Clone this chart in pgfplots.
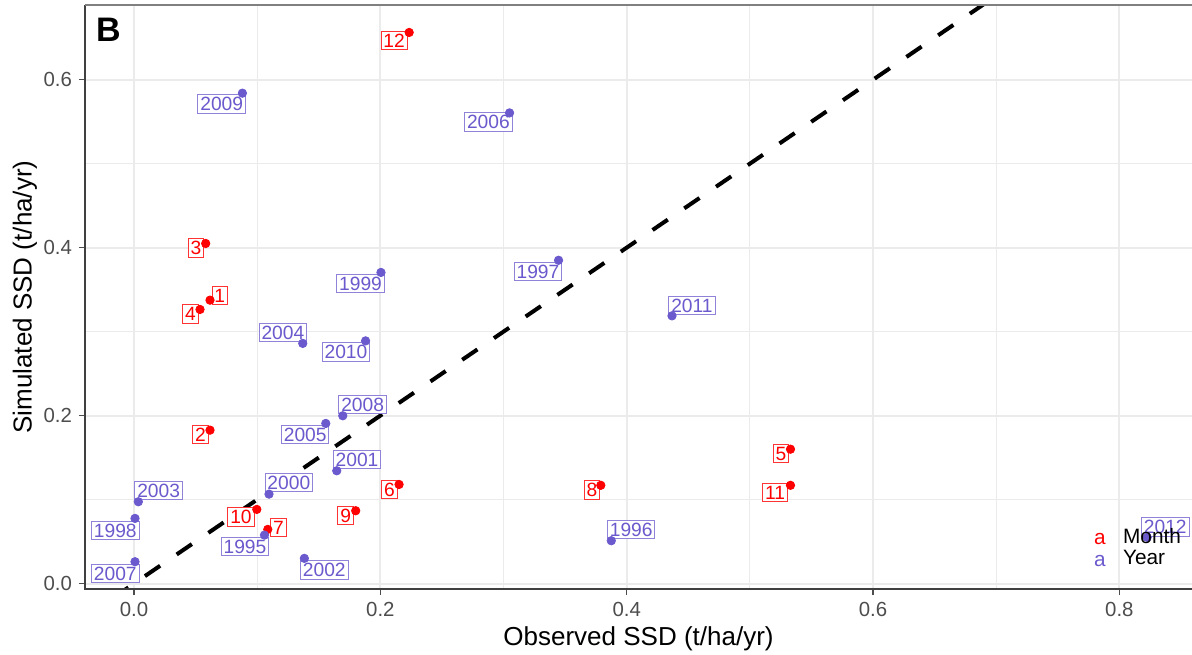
\documentclass[border=0pt]{standalone}
\usepackage{pgfplots}
\pgfplotsset{compat=1.18}
\usepackage{pgfplotstable}
\usepackage{fontspec}
\setmainfont{Liberation Sans}
\definecolor{yr}{RGB}{106,90,205}
\definecolor{mo}{RGB}{255,0,0}
\definecolor{gridc}{RGB}{235,235,235}
\definecolor{tickc}{RGB}{77,77,77}

% Month points
\pgfplotstableread{
x y
0.0617 0.3375
0.0617 0.1827
0.0582 0.4050
0.0536 0.3264
0.5330 0.1600
0.2152 0.1180
0.1086 0.0645
0.3790 0.1170
0.1800 0.0867
0.0997 0.0883
0.5330 0.1170
0.2234 0.6563
}\monthpts

% Month label positions
\pgfplotstableread{
x y label
0.0696 0.3430 1
0.0540 0.1771 2
0.0502 0.3996 3
0.0459 0.3210 4
0.5253 0.1551 5
0.2073 0.1123 6
0.1172 0.0663 7
0.3719 0.1113 8
0.1718 0.0812 9
0.0868 0.0792 10
0.5205 0.1080 11
0.2112 0.6470 12
}\monthlab

% Year points
\pgfplotstableread{
x y
0.1059 0.0577
0.3875 0.0510
0.3447 0.3850
0.0008 0.0776
0.2005 0.3705
0.1096 0.1065
0.1646 0.1343
0.1383 0.0300
0.0035 0.0974
0.1370 0.2860
0.1557 0.1907
0.3049 0.5605
0.0008 0.0260
0.1695 0.1998
0.0880 0.5840
0.1880 0.2890
0.4368 0.3188
0.8226 0.0550
}\yearpts

% Year label positions
\pgfplotstableread{
x y label
0.0901 0.0438 1995
0.4037 0.0640 1996
0.3280 0.3717 1997
-0.0152 0.0633 1998
0.1839 0.3574 1999
0.1257 0.1199 2000
0.1811 0.1474 2001
0.1545 0.0161 2002
0.0200 0.1107 2003
0.1209 0.2988 2004
0.1390 0.1774 2005
0.2877 0.5497 2006
-0.0152 0.0115 2007
0.1856 0.2135 2008
0.0712 0.5710 2009
0.1721 0.2758 2010
0.4530 0.3315 2011
0.8373 0.0673 2012
}\yearlab

\begin{document}
\begin{tikzpicture}
\path[use as bounding box] (0,0) rectangle (596pt,327pt);
\begin{axis}[
  name=ax,
  at={(42.5pt,32.5pt)}, anchor=south west,
  width=553.5pt, height=292pt, scale only axis,
  xmin=-0.0398, xmax=0.859, ymin=-0.0065, ymax=0.689,
  xtick={0,0.2,0.4,0.6,0.8}, ytick={0,0.2,0.4,0.6},
  minor xtick={0.1,0.3,0.5,0.7}, minor ytick={0.1,0.3,0.5},
  grid=both,
  major grid style={gridc, line width=1pt},
  minor grid style={gridc, line width=0.5pt},
  axis line style={draw=none},
  xtick pos=bottom, ytick pos=left,
  tick align=outside,
  major tick length=3pt, minor tick length=0pt,
  every tick/.style={tickc, line width=0.6pt},
  tick label style={font=\fontsize{10.2}{12}\selectfont, text=tickc},
  xlabel={Observed SSD (t/ha/yr)},
  ylabel={Simulated SSD (t/ha/yr)},
  xlabel style={font=\fontsize{13}{15}\selectfont, at={(axis description cs:0.5,-0.0856)}, anchor=center},
  ylabel style={font=\fontsize{13}{15}\selectfont, at={(axis description cs:-0.0542,0.5)}, anchor=center},
  legend style={draw=none, fill=none, at={(0.9116,0.0335)}, anchor=south west,
    font=\fontsize{10.4}{12}\selectfont, row sep=1.3pt, inner sep=0pt, outer sep=0pt,
    nodes={inner sep=0pt},
    /tikz/every odd column/.append style={column sep=8.7pt}},
  legend cell align=left,
  /pgf/number format/.cd, fixed, fixed zerofill, precision=1, assume math mode=true,
]
% labels (boxes)
\addplot[draw=none, mark=none, forget plot, nodes near coords, point meta=explicit symbolic,
  nodes near coords align={center},
  every node near coord/.append style={anchor=center, text=mo, draw=mo!80, fill=white,
    line width=0.5pt, inner xsep=1.2pt, inner ysep=1.1pt, text height=6.9pt, text depth=0pt,
    font=\fontsize{9.6}{11}\selectfont}]
  table[x=x, y=y, meta=label] {\monthlab};
\addplot[draw=none, mark=none, forget plot, nodes near coords, point meta=explicit symbolic,
  nodes near coords align={center},
  every node near coord/.append style={anchor=center, text=yr, draw=yr!75, fill=white,
    line width=0.5pt, inner xsep=1.2pt, inner ysep=1.1pt, text height=6.9pt, text depth=0pt,
    font=\fontsize{9.6}{11}\selectfont}]
  table[x=x, y=y, meta=label] {\yearlab};
% points
\addplot[only marks, forget plot, mark=*, mark size=2.1pt, color=mo] table[x=x, y=y] {\monthpts};
\addplot[only marks, forget plot, mark=*, mark size=2.1pt, color=yr] table[x=x, y=y] {\yearpts};
% 1:1 line
\addplot[forget plot, black, line width=2pt, dash pattern=on 9.2pt off 10pt] coordinates {(-0.0169,-0.0169) (0.86,0.86)};
% panel tag
\node[font=\fontsize{17}{20}\selectfont\bfseries, inner sep=0pt] at (rel axis cs:0.0212,0.957) {B};
% legend
\addlegendimage{legend image code/.code={\node[text=mo, inner sep=0pt, anchor=base] at (0pt,-3.7pt) {a};}}
\addlegendentry{Month}
\addlegendimage{legend image code/.code={\node[text=yr, inner sep=0pt, anchor=base] at (0pt,-3.7pt) {a};}}
\addlegendentry{Year}
\end{axis}
\draw[black!75, line width=0.9pt] (ax.north west) -- (ax.south west) -- (ax.south east);
\draw[black!50, line width=0.6pt] (ax.north west) -- (ax.north east);
\end{tikzpicture}
\end{document}
